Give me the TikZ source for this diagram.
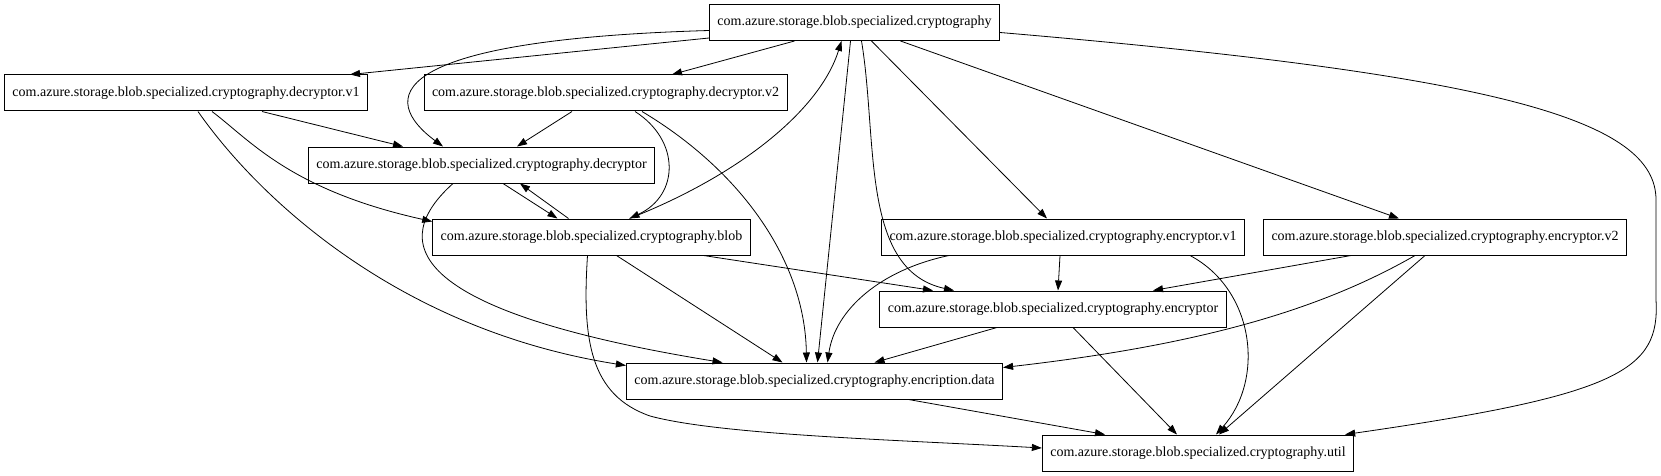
\documentclass[tikz,border=0pt]{standalone}
\usepackage{fontspec}
\setmainfont{Liberation Serif}
\usepackage{tikz}
\usetikzlibrary{arrows.meta}

\begin{document}
\begin{tikzpicture}[
        x=1pt, y=-1pt,
        font=\fontsize{14pt}{16pt}\selectfont,
        >={Triangle[length=10pt,width=7pt]},
        pkg/.style={
            rectangle,
            draw,
            line width=1pt,
            minimum height=36pt,
            inner xsep=8pt,
            inner ysep=0pt,
        },
        dep/.style={
            ->,
            line width=0.8pt,
        },
    ]

    % Frame of the picture
    \useasboundingbox (0,0) rectangle (1661,476);

    % Draw packages, named by their last part
    \node [pkg] (crypto) at (854.5,22.5) {com.azure.storage.blob.specialized.cryptography};
    \node [pkg] (decv1) at (186,93) {com.azure.storage.blob.specialized.cryptography.decryptor.v1};
    \node [pkg] (decv2) at (605.5,93) {com.azure.storage.blob.specialized.cryptography.decryptor.v2};
    \node [pkg] (dec) at (481.5,165) {com.azure.storage.blob.specialized.cryptography.decryptor};
    \node [pkg] (blob) at (591.5,237) {com.azure.storage.blob.specialized.cryptography.blob};
    \node [pkg] (encv1) at (1063,237) {com.azure.storage.blob.specialized.cryptography.encryptor.v1};
    \node [pkg] (encv2) at (1445,237) {com.azure.storage.blob.specialized.cryptography.encryptor.v2};
    \node [pkg] (enc) at (1053,309) {com.azure.storage.blob.specialized.cryptography.encryptor};
    \node [pkg] (data) at (814.5,381) {com.azure.storage.blob.specialized.cryptography.encription.data};
    \node [pkg] (util) at (1198,453) {com.azure.storage.blob.specialized.cryptography.util};

    % Edges out of cryptography
    \draw [dep] ([yshift=3pt]crypto.south west) -- ([xshift=-18pt]decv1.north east);
    \draw [dep] ([yshift=-8pt]crypto.west) .. controls (380,40) and (380,100) .. ([xshift=-38.5pt]dec.north);
    \draw [dep] ([xshift=-60pt]crypto.south) -- ([xshift=66.5pt]decv2.north);
    \draw [dep] ([xshift=-4pt]crypto.south) -- ([xshift=3pt]data.north);
    \draw [dep] ([xshift=7pt]crypto.south) .. controls (878,140) and (860,270) .. ([xshift=-99pt]enc.north);
    \draw [dep] ([xshift=17pt]crypto.south) -- ([xshift=-16pt]encv1.north);
    \draw [dep] ([xshift=46pt]crypto.south) -- ([xshift=-46pt]encv2.north);
    \draw [dep] ([yshift=-10pt]crypto.east) .. controls (1500,75) and (1656,120) .. (1656,200)
        -- (1656,300) .. controls (1660,370) and (1620,395) .. ([xshift=-9pt]util.north east);

    % Decryptors
    \draw [dep] ([xshift=76pt]decv1.south) -- ([xshift=-78.5pt]dec.north);
    \draw [dep] ([xshift=26pt]decv1.south) .. controls (250,140) and (290,190) .. ([yshift=-3pt]blob.north west);
    \draw [dep] ([xshift=12pt]decv1.south) .. controls (260,200) and (400,330) .. ([yshift=-3pt]data.north west);
    \draw [dep] ([xshift=-33.5pt]decv2.south) -- ([xshift=35.5pt]dec.north);
    \draw [dep] ([xshift=29.5pt]decv2.south) .. controls (680,140) and (680,195) .. ([xshift=38pt]blob.north);
    \draw [dep] ([xshift=36.5pt]decv2.south) .. controls (740,170) and (805,260) .. ([xshift=-8pt]data.north);
    \draw [dep] ([xshift=21.5pt]dec.south) -- ([xshift=-34pt]blob.north);
    \draw [dep] ([xshift=-28.5pt]dec.south) .. controls (390,240) and (400,310) .. ([xshift=-92pt]data.north);

    % Blob
    \draw [dep] ([xshift=-23pt]blob.north) -- ([xshift=38.5pt]dec.south);
    \draw [dep] ([xshift=38pt]blob.north) .. controls (740,175) and (820,110) .. ([xshift=-13pt]crypto.south);
    \draw [dep] ([xshift=25pt]blob.south) -- ([xshift=-32pt]data.north);
    \draw [dep] ([xshift=112pt]blob.south) -- ([xshift=-120pt]enc.north);
    \draw [dep] ([xshift=-4pt]blob.south) .. controls (582,340) and (590,395) .. (650,416)
        .. controls (720,435) and (900,440) .. ([yshift=5pt]util.west);

    % Encryptors
    \draw [dep] ([xshift=-3pt]encv1.south) -- ([xshift=5pt]enc.north);
    \draw [dep] ([xshift=-114pt]encv1.south) .. controls (880,270) and (835,310) .. ([xshift=13pt]data.north);
    \draw [dep] ([xshift=127pt]encv1.south) .. controls (1255,290) and (1265,380) .. ([xshift=18pt]util.north);
    \draw [dep] ([xshift=-94pt]encv2.south) -- ([xshift=100pt]enc.north);
    \draw [dep] ([xshift=-30pt]encv2.south) .. controls (1320,310) and (1200,345) .. ([yshift=-5pt]data.north east);
    \draw [dep] ([xshift=-20pt]encv2.south) -- ([xshift=21pt]util.north);
    \draw [dep] ([xshift=-56pt]enc.south) -- ([xshift=60pt]data.north);
    \draw [dep] ([xshift=20pt]enc.south) -- ([xshift=-21pt]util.north);

    % Encription data
    \draw [dep] ([xshift=94pt]data.south) -- ([xshift=-93pt]util.north);

\end{tikzpicture}
\end{document}
